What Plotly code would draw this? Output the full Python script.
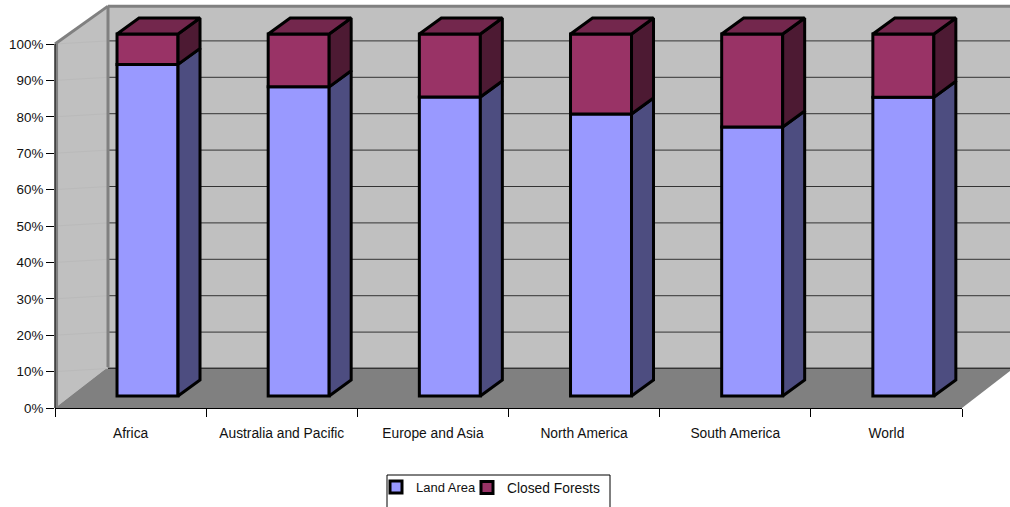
import plotly.graph_objects as go

# ---- data (percent of each bar) ----
categories = ["Africa", "Australia and Pacific", "Europe and Asia",
              "North America", "South America", "World"]
land_area = [91.6, 85.4, 82.6, 77.9, 74.3, 82.5]
closed_forests = [8.4, 14.6, 17.4, 22.1, 25.7, 17.5]
y_ticks = [0, 10, 20, 30, 40, 50, 60, 70, 80, 90, 100]
y_labels = ["0%", "10%", "20%", "30%", "40%", "50%", "60%", "70%", "80%", "90%", "100%"]

# ---- pseudo-3D layout parameters, in axis units ----
Y_MAX = 408 / 3.64     # axis range runs to the page top so the 3D tops are not clipped
BAR_X = 0.612          # bar centre inside each category slot
BAR_W = 0.4035
BAR_BASE = 3.3         # front face is lifted off the front axis
BAR_SCALE = 362 / 364  # bars are foreshortened slightly
DEPTH_X = 0.1455
DEPTH_Y = 4.4
WALL_X = 53 / 151.17
WALL_Y_TOP = 10.4
WALL_Y_FLOOR = 11.26
GRID_Y = 0.85

C_LAND, C_LAND_SIDE = "#9999FF", "#4D4D80"
C_FOREST, C_FOREST_SIDE, C_FOREST_TOP = "#993366", "#4D1A33", "#73274D"
C_WALL, C_FLOOR, C_EDGE = "#C0C0C0", "#808080", "#808080"
TEXT = dict(family="Liberation Sans, Arial, sans-serif", size=13.8, color="#111111")
N = len(categories)


def px(x):
    return x / N


def py(y):
    return y / Y_MAX


def poly(points, fill):
    path = "M" + " L".join(f"{px(x):.5f},{py(y):.5f}" for x, y in points) + " Z"
    return dict(type="path", path=path, xref="paper", yref="paper", layer="below",
                fillcolor=fill, line=dict(color=fill, width=0))


def seg(x0, y0, x1, y1, color, width):
    return dict(type="line", xref="paper", yref="paper", layer="below",
                x0=px(x0), y0=py(y0), x1=px(x1), y1=py(y1),
                line=dict(color=color, width=width))


back_x = WALL_X
far_x = N + 0.36
shapes = [
    poly([(back_x, WALL_Y_FLOOR), (far_x, WALL_Y_FLOOR), (far_x, 100 + WALL_Y_TOP), (back_x, 100 + WALL_Y_TOP)], C_WALL),
    poly([(0, 0), (back_x, WALL_Y_FLOOR), (back_x, 100 + WALL_Y_TOP), (0, 100)], C_WALL),
    poly([(0, 0), (N, 0), (N + WALL_X, WALL_Y_FLOOR), (back_x, WALL_Y_FLOOR)], C_FLOOR),
]
for t in y_ticks[1:]:
    shapes.append(seg(0, t, back_x, t + GRID_Y, "#BABABA", 1))
    shapes.append(seg(back_x, t + GRID_Y, far_x, t + GRID_Y, "#333333", 1))
shapes += [
    seg(0.012, 0, 0.012, 100, C_EDGE, 2.5),
    seg(0, 100, back_x, 100 + WALL_Y_TOP, C_EDGE, 3),
    seg(back_x, 100 + WALL_Y_TOP, far_x, 100 + WALL_Y_TOP, C_EDGE, 3),
    seg(back_x, WALL_Y_FLOOR, back_x, 100 + WALL_Y_TOP, C_EDGE, 3),
    seg(0, 0, 0, 100, "#000000", 1.2),  # the value axis stops at 100%
]

# legend frame: runs off the bottom of the page
shapes.append(dict(type="rect", xref="paper", yref="paper", layer="above",
                   x0=(387 - 55) / 907, x1=(610 - 55) / 907,
                   y0=-112 / 408, y1=-67 / 408,
                   line=dict(color="#000000", width=1), fillcolor="rgba(0,0,0,0)"))

x_pos = [i + BAR_X for i in range(N)]
land_h = [v * BAR_SCALE for v in land_area]
forest_h = [v * BAR_SCALE for v in closed_forests]
forest_base = [BAR_BASE + h for h in land_h]

fig = go.Figure()
bar_line = dict(color="#000000", width=3)
fig.add_trace(go.Bar(x=x_pos, y=land_h, base=[BAR_BASE] * N, width=BAR_W, name="Land Area",
                     marker=dict(color=C_LAND, line=bar_line), legend="legend"))
fig.add_trace(go.Bar(x=x_pos, y=forest_h, base=forest_base, width=BAR_W, name="Closed Forests",
                     marker=dict(color=C_FOREST, line=bar_line), legend="legend2"))


def face(xs, ys, color):
    fig.add_trace(go.Scatter(x=xs, y=ys, mode="lines", fill="toself", fillcolor=color,
                             line=dict(color="#000000", width=3), showlegend=False,
                             hoverinfo="skip"))


for i in range(N):
    right = x_pos[i] + BAR_W / 2
    left = x_pos[i] - BAR_W / 2
    low = BAR_BASE
    mid = forest_base[i]
    high = mid + forest_h[i]
    face([right, right + DEPTH_X, right + DEPTH_X, right, right],
         [low, low + DEPTH_Y, mid + DEPTH_Y, mid, low], C_LAND_SIDE)
    face([right, right + DEPTH_X, right + DEPTH_X, right, right],
         [mid, mid + DEPTH_Y, high + DEPTH_Y, high, mid], C_FOREST_SIDE)
    face([left, left + DEPTH_X, right + DEPTH_X, right, left],
         [high, high + DEPTH_Y, high + DEPTH_Y, high, high], C_FOREST_TOP)

legend_common = dict(orientation="h", xanchor="left", yanchor="top", y=-64 / 408,
                     borderwidth=0, bgcolor="rgba(0,0,0,0)",
                     itemclick=False, itemdoubleclick=False)

fig.update_layout(
    width=1010, height=507, autosize=False,
    margin=dict(l=55, r=48, t=0, b=99, autoexpand=False),
    paper_bgcolor="#FFFFFF", plot_bgcolor="rgba(0,0,0,0)",
    barmode="overlay", font=TEXT, shapes=shapes, showlegend=True,
    legend=dict(x=(376 - 55) / 907, font=dict(family=TEXT["family"], size=13, color="#111111"),
                **legend_common),
    legend2=dict(x=(467 - 55) / 907, font=dict(family=TEXT["family"], size=13.8, color="#111111"),
                 **legend_common),
    xaxis=dict(range=[0, N], tickmode="array", tickvals=[i + 0.5 for i in range(N)],
               ticktext=categories, ticks="", ticklabelstandoff=12, showgrid=False,
               zeroline=False, showline=True, linecolor="#000000", linewidth=1,
               minor=dict(tickmode="array", tickvals=list(range(N + 1)), ticks="outside",
                          ticklen=8, tickwidth=1, tickcolor="#000000", showgrid=False)),
    yaxis=dict(range=[0, Y_MAX], tickmode="array", tickvals=y_ticks, ticktext=y_labels,
               tickfont=dict(family=TEXT["family"], size=13.4, color="#111111"),
               ticks="outside", ticklen=8, tickwidth=1, tickcolor="#000000",
               showgrid=False, zeroline=False, showline=False),
)

fig.write_html("out.html", config={"displayModeBar": False},
               post_script="document.body.style.margin='0';document.body.style.overflow='hidden';")
